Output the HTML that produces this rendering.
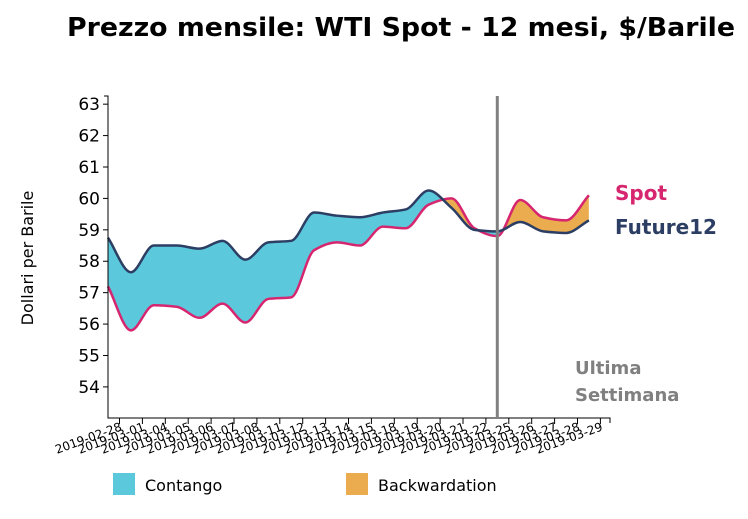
<!DOCTYPE html>
<html><head><meta charset="utf-8"><style>
body{margin:0;background:#fff;}
svg{display:block;font-family:"DejaVu Sans","Liberation Sans",sans-serif;}
</style></head><body>
<svg id="chart" width="748" height="519">
<text x="67" y="36" font-size="26" font-weight="bold" textLength="668" lengthAdjust="spacingAndGlyphs">Prezzo mensile: WTI Spot - 12 mesi, $/Barile</text>
<defs>
<clipPath id="belowF"><path id="clipBelow"/></clipPath>
<clipPath id="aboveF"><path id="clipAbove"/></clipPath>
</defs>
<g id="plot"></g>
<text transform="translate(33,258) rotate(-90)" text-anchor="middle" font-size="16">Dollari per Barile</text>
<text x="615" y="200" font-size="20" font-weight="bold" fill="#d6266f">Spot</text>
<text x="615" y="234" font-size="20" font-weight="bold" fill="#2c3e63">Future12</text>
<text x="575" y="374" font-size="18" font-weight="bold" fill="#808080">Ultima</text>
<text x="575" y="401" font-size="18" font-weight="bold" fill="#808080">Settimana</text>
<rect x="113" y="473" width="22" height="22" fill="#5bc8dc"/>
<text x="145" y="491" font-size="16">Contango</text>
<rect x="346" y="473" width="22" height="22" fill="#ebac4f"/>
<text x="378" y="491" font-size="16">Backwardation</text>
</svg>
<script>
const dates=["2019-02-28","2019-03-01","2019-03-04","2019-03-05","2019-03-06","2019-03-07","2019-03-08","2019-03-11","2019-03-12","2019-03-13","2019-03-14","2019-03-15","2019-03-18","2019-03-19","2019-03-20","2019-03-21","2019-03-22","2019-03-25","2019-03-26","2019-03-27","2019-03-28","2019-03-29"];
const spot=[57.2,55.8,56.6,56.55,56.2,56.65,56.05,56.8,56.85,58.35,58.6,58.5,59.1,59.05,59.8,60.0,59.05,58.8,59.95,59.4,59.3,60.1];
const future12=[58.75,57.65,58.5,58.5,58.4,58.65,58.05,58.6,58.65,59.55,59.45,59.4,59.55,59.65,60.25,59.7,59.0,58.95,59.25,58.95,58.9,59.3];
const yTicks=[54,55,56,57,58,59,60,61,62,63];
const lastWeekIndex=17;

const NS="http://www.w3.org/2000/svg";
const plot=document.getElementById('plot');
const x0=108,step=22.9,yTop=96,yBot=418,vMin=53.01,vMax=63.26;
const xs=i=>x0+step*i;
const xt=i=>x0+11.5+step*i;
const ys=v=>yBot-(v-vMin)/(vMax-vMin)*(yBot-yTop);
function mk(tag,attrs){const e=document.createElementNS(NS,tag);for(const k in attrs)e.setAttribute(k,attrs[k]);return e;}
function monotone(vals){
  const n=vals.length,X=vals.map((v,i)=>xs(i)),Y=vals.map(ys);
  const d=[],m=[];
  for(let i=0;i<n-1;i++)d.push((Y[i+1]-Y[i])/(X[i+1]-X[i]));
  for(let i=0;i<n;i++){
    if(i==0)m.push(d[0]);else if(i==n-1)m.push(d[n-2]);
    else m.push(d[i-1]*d[i]<=0?0:(2*d[i-1]*d[i])/(d[i-1]+d[i]));
  }
  let p="M"+X[0]+","+Y[0];
  for(let i=0;i<n-1;i++){const h=(X[i+1]-X[i])/3;
    p+="C"+(X[i]+h)+","+(Y[i]+m[i]*h)+","+(X[i+1]-h)+","+(Y[i+1]-m[i+1]*h)+","+X[i+1]+","+Y[i+1];}
  return p;
}
function monotoneRev(vals){
  const fwd=monotone(vals);
  const nums=fwd.replace(/[MC]/g," ").trim().split(/[ ,]+/).map(Number);
  let segs=[];
  for(let i=2;i<nums.length;i+=6)segs.push(nums.slice(i,i+6));
  let p="L"+segs[segs.length-1][4]+","+segs[segs.length-1][5];
  for(let s=segs.length-1;s>=0;s--){
    const prev=s>0?[segs[s-1][4],segs[s-1][5]]:[nums[0],nums[1]];
    p+="C"+segs[s][2]+","+segs[s][3]+","+segs[s][0]+","+segs[s][1]+","+prev[0]+","+prev[1];
  }
  return p;
}
const fPath=monotone(future12),sPath=monotone(spot);
const xEnd=xs(dates.length-1);
document.getElementById('clipBelow').setAttribute('d',fPath+"L"+xEnd+","+yBot+"L"+x0+","+yBot+"Z");
document.getElementById('clipAbove').setAttribute('d',fPath+"L"+xEnd+",0L"+x0+",0Z");
const between=fPath+monotoneRev(spot)+"Z";
const blue=mk('path',{d:between,fill:'#5bc8dc','clip-path':'url(#belowF)'});


plot.appendChild(blue);
const orange=mk('path',{d:between,fill:'#ebac4f','clip-path':'url(#aboveF)'});


plot.appendChild(orange);
const sl=mk('path',{d:sPath,fill:'none',stroke:'#d6266f','stroke-width':2.5});


plot.appendChild(sl);
const fl=mk('path',{d:fPath,fill:'none',stroke:'#2c3e63','stroke-width':2.5});


plot.appendChild(fl);
const ya=mk('path',{d:"M"+(x0-4)+","+yTop+"H"+x0+"V"+yBot+"H610V"+(yBot+5),fill:'none',stroke:'#000','stroke-width':1});


plot.appendChild(ya);
yTicks.forEach(v=>{
  const y=ys(v);
  const t=mk('line',{x1:x0-5,x2:x0,y1:y,y2:y,stroke:'#000'});
  
  
  plot.appendChild(t);
  const l=mk('text',{x:x0-8,y:y+6,'text-anchor':'end','font-size':17});
  
  
  l.textContent=v;plot.appendChild(l);
});
dates.forEach((d,i)=>{
  const x=xt(i);
  const t=mk('line',{x1:x,x2:x,y1:yBot,y2:yBot+6,stroke:'#000'});
  
  
  plot.appendChild(t);
  const l=mk('text',{transform:"translate("+(x+3)+","+(yBot+12)+") rotate(-20)",'text-anchor':'end','font-size':12});
  
  
  l.textContent=d;plot.appendChild(l);
});
const vl=mk('line',{x1:xs(lastWeekIndex),x2:xs(lastWeekIndex),y1:yTop,y2:yBot,stroke:'#808080','stroke-width':3});


plot.appendChild(vl);
</script>
</body></html>
